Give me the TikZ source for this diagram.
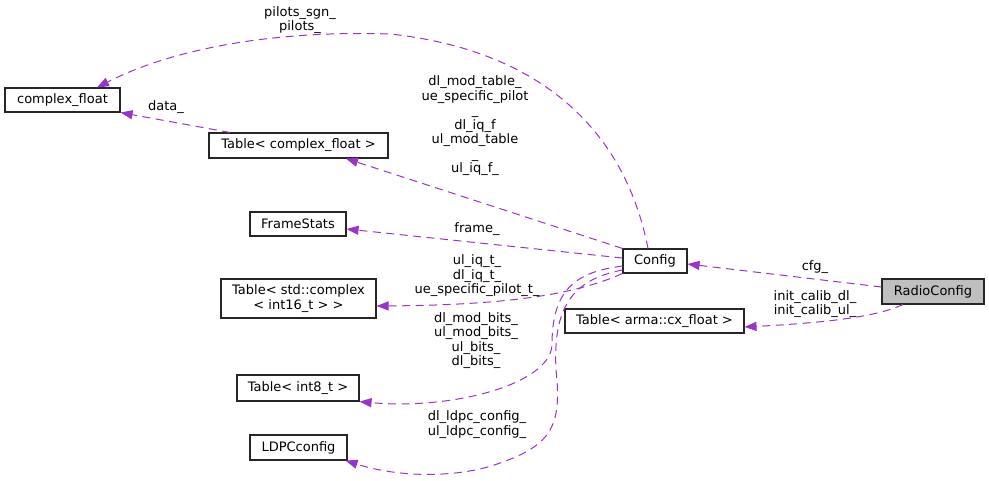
\documentclass[tikz,border=0pt]{standalone}
\usepackage{fontspec}
\setmainfont{DejaVu Sans}
\usetikzlibrary{arrows.meta}
\definecolor{edgec}{HTML}{9A32CD}
\definecolor{rcfill}{HTML}{BFBFBF}
\begin{document}
\begin{tikzpicture}[x=1pt,y=-1pt,
  box/.style={draw=black!85, line width=1.1pt, inner sep=0pt, font=\fontsize{13}{14.5}\selectfont, align=center},
  rel/.style={draw=edgec, line width=1pt, dash pattern=on 8pt off 5.5pt, -{Triangle[length=12pt,width=9pt]}},
  lbl/.style={inner sep=0pt, font=\fontsize{13}{14.5}\selectfont, align=center}]
\useasboundingbox (0,0) rectangle (989,480);

% nodes
\node[box, minimum width=115pt, minimum height=24pt] (cf) at (62.5,100) {complex\_float};
\node[box, minimum width=179pt, minimum height=25pt] (tcf) at (298.5,145.5) {Table< complex\_float >};
\node[box, minimum width=96pt, minimum height=24pt] (fs) at (298,224) {FrameStats};
\node[box, minimum width=155pt, minimum height=39pt] (tsc) at (298.5,298.5) {Table< std::complex\\< int16\_t > >};
\node[box, minimum width=64pt, minimum height=24pt] (cfg) at (655,261) {Config};
\node[box, fill=rcfill, minimum width=102pt, minimum height=25pt] (rc) at (933,291.5) {RadioConfig};
\node[box, minimum width=179pt, minimum height=24pt] (tax) at (654.5,321) {Table< arma::cx\_float >};
\node[box, minimum width=122pt, minimum height=26pt] (ti8) at (298,388) {Table< int8\_t >};
\node[box, minimum width=97pt, minimum height=25pt] (ldpc) at (298.5,447.5) {LDPCconfig};

% edges
\draw[rel] ([xshift=-7pt]cfg.north) .. controls (625,130) and (540,50) .. (390,34)
   .. controls (270,30) and (170,50) .. ([xshift=34.5pt]cf.north);
\draw[rel] ([xshift=-68.5pt]tcf.north) -- (cf.south east);
\draw[rel] (cfg.north west) -- ([xshift=47.5pt]tcf.south);
\draw[rel] ([yshift=3pt]cfg.west) -- ([yshift=-5pt]fs.east);
\draw[rel] (cfg.south west) .. controls (580,292) and (520,305) .. ([yshift=-7.5pt]tsc.east);
\draw[rel] ([yshift=-5pt]cfg.west) .. controls (575,272) and (552,290) .. (552,345)
   .. controls (550,385) and (450,410) .. (ti8.south east);
\draw[rel] ([yshift=-9pt]cfg.west) .. controls (570,280) and (553,310) .. (556,370)
   .. controls (562,425) and (552,445) .. (500,463)
   .. controls (460,478) and (400,478) .. ([xshift=-2pt]ldpc.south east);
\draw[rel] ([yshift=4.5pt]rc.west) -- ([yshift=-3pt]cfg.east);
\draw[rel] ([xshift=-30pt]rc.south) .. controls (880,315) and (840,322) .. ([yshift=-6pt]tax.east);

% labels
\node[lbl, font=\fontsize{13}{14}\selectfont] (l1) at (300,20) {pilots\_sgn\_\\pilots\_};
\node[lbl] (l2) at (166,107) {data\_};
\node[lbl] (l3) at (475,126) {dl\_mod\_table\_\\ue\_specific\_pilot\\\_\\dl\_iq\_f\\ul\_mod\_table\\\_\\ul\_iq\_f\_};
\node[lbl] (l4) at (477,229) {frame\_};
\node[lbl] (l5) at (477,276) {ul\_iq\_t\_\\dl\_iq\_t\_\\ue\_specific\_pilot\_t\_};
\node[lbl] (l6) at (476,340.5) {dl\_mod\_bits\_\\ul\_mod\_bits\_\\ul\_bits\_\\dl\_bits\_};
\node[lbl] (l7) at (477,424.5) {dl\_ldpc\_config\_\\ul\_ldpc\_config\_};
\node[lbl] (l8) at (815,267) {cfg\_};
\node[lbl] (l9) at (815,304) {init\_calib\_dl\_\\init\_calib\_ul\_};
\end{tikzpicture}
\end{document}
